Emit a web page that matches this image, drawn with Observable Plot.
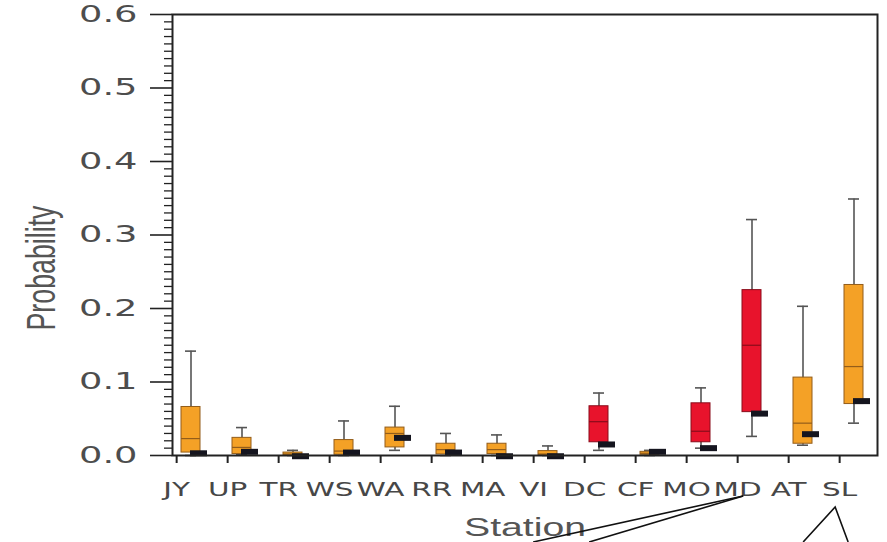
<!DOCTYPE html>
<html>
<head>
<meta charset="utf-8">
<script src="https://cdn.jsdelivr.net/npm/d3@7"></script>
<script src="https://cdn.jsdelivr.net/npm/@observablehq/plot@0.6"></script>
<style>
  html, body { margin: 0; padding: 0; background: #fff; }
  svg { display: block; }
</style>
</head>
<body>
<div id="chart"></div>
<script>
// ---- data ----
const stations   = ["JY","UP","TR","WS","WA","RR","MA","VI","DC","CF","MO","MD","AT","SL"];
const groups     = ["orange","orange","orange","orange","orange","orange","orange","orange","red","orange","red","red","orange","orange"];
const whiskerLow = [0.000, 0.001, 0.000, 0.000, 0.007, 0.000, 0.000, 0.000, 0.007, 0.000, 0.010, 0.026, 0.014, 0.044];
const q1         = [0.004, 0.002, 0.000, 0.001, 0.011, 0.0015, 0.002, 0.000, 0.018, 0.001, 0.018, 0.059, 0.016, 0.070];
const medians    = [0.023, 0.011, 0.002, 0.006, 0.030, 0.008, 0.008, 0.002, 0.046, 0.003, 0.033, 0.150, 0.044, 0.121];
const q3         = [0.066, 0.024, 0.004, 0.021, 0.038, 0.016, 0.016, 0.006, 0.067, 0.005, 0.071, 0.225, 0.106, 0.232];
const whiskerHigh= [0.142, 0.038, 0.007, 0.047, 0.067, 0.030, 0.028, 0.013, 0.085, 0.007, 0.092, 0.321, 0.203, 0.349];
const observed   = [0.003, 0.005, -0.001, 0.004, 0.024, 0.004, -0.001, -0.001, 0.015, 0.005, 0.010, 0.057, 0.029, 0.074];
const yMajorTicks = [0, 0.1, 0.2, 0.3, 0.4, 0.5, 0.6];
const yMinorTicks = d3.range(0, 61).filter(i => i % 10 !== 0).map(i => i / 100);

const fillColor = {orange: "#f4a126", red: "#e8132c"};
const edgeColor = {orange: "#935d1a", red: "#8a0c1b"};

const rows = stations.map((s, i) => ({
  station: s, group: groups[i], lo: whiskerLow[i], q1: q1[i], median: medians[i],
  q3: q3[i], hi: whiskerHigh[i], obs: observed[i]
}));

const plot = Plot.plot({
  width: 887,
  height: 542,
  marginLeft: 172,
  marginRight: 10,
  marginTop: 14,
  marginBottom: 87,
  style: {fontFamily: "DejaVu Sans", background: "#fff", overflow: "visible"},
  x: {type: "band", domain: stations, paddingInner: 0.628, paddingOuter: 0.114, align: 0.4, axis: null},
  y: {domain: [0, 0.6], axis: null},
  marks: [
    Plot.axisY(yMinorTicks, {tickSize: 8, tickFormat: () => "", stroke: "#222", strokeWidth: 1.3, label: null}),
    Plot.axisY(yMajorTicks, {tickSize: 22, tickPadding: 13, tickFormat: d3.format(".1f"), fontSize: 23, fill: "#4d4d4d", stroke: "#222", strokeWidth: 1.6, label: null}),
    Plot.axisX({tickSize: 8, tickPadding: 19, fontSize: 19, fill: "#474747", stroke: "#222", strokeWidth: 2, dx: -14.35, label: null}),
    Plot.ruleX(rows, {x: "station", y1: "lo", y2: "hi", stroke: "#555", strokeWidth: 1.6}),
    Plot.tickY(rows, {x: "station", y: "hi", stroke: "#555", strokeWidth: 1.6, insetLeft: 4, insetRight: 4}),
    Plot.tickY(rows, {x: "station", y: "lo", stroke: "#555", strokeWidth: 1.6, insetLeft: 4, insetRight: 4}),
    Plot.barY(rows, {x: "station", y1: "q1", y2: "q3", fill: d => fillColor[d.group], stroke: d => edgeColor[d.group], strokeWidth: 1}),
    Plot.tickY(rows, {x: "station", y: "median", stroke: d => edgeColor[d.group], strokeWidth: 1.2}),
    Plot.tickY(rows, {x: "station", y: "obs", stroke: "#15151f", strokeWidth: 6, dx: 8, insetLeft: 1, insetRight: 1}),
    Plot.frame({stroke: "#222", strokeWidth: 2}),
    Plot.text(["Probability"], {frameAnchor: "left", dx: -130, dy: 33, rotate: -90, fontSize: 40, fill: "#555",
      fontFamily: "Liberation Sans", textAnchor: "middle", lineAnchor: "middle"}),
    Plot.text(["Station"], {frameAnchor: "bottom", dx: 0, dy: 72, fontSize: 26, fill: "#555",
      fontFamily: "Liberation Sans", textAnchor: "middle", lineAnchor: "middle"})
  ]
});

document.getElementById("chart").append(plot);

// widen text horizontally, as in the (horizontally stretched) reference
function stretch(nodes, k) {
  nodes.forEach(t => {
    const w = t.getComputedTextLength();
    if (w > 0) { t.setAttribute("textLength", w * k); t.setAttribute("lengthAdjust", "spacingAndGlyphs"); }
  });
}
stretch(plot.querySelectorAll('g[aria-label="y-axis tick label"] text'), 1.6);
stretch(plot.querySelectorAll('g[aria-label="x-axis tick label"] text'), 1.55);
plot.querySelectorAll("text").forEach(t => {
  if (t.textContent === "Probability") { t.setAttribute("textLength", 125); t.setAttribute("lengthAdjust", "spacingAndGlyphs"); }
  if (t.textContent === "Station") { t.setAttribute("textLength", 122); t.setAttribute("lengthAdjust", "spacingAndGlyphs"); }
});

// callout lines below the axis, anchored to the MD and SL tick positions
const xs = plot.scale("x");
const tickPos = s => xs.apply(s) + xs.bandwidth / 2 - 14.35;
const callouts = [
  [["MD", -204, 542], ["MD", 6, 496]],
  [["MD", -148, 542], ["MD", 6, 496]],
  [["SL", -36, 542], ["SL", -4, 507], ["SL", 9, 542]]
];
const svg = d3.select(plot);
callouts.forEach(pts => {
  svg.append("polyline")
    .attr("points", pts.map(([s, off, y]) => `${tickPos(s) + off},${y}`).join(" "))
    .attr("fill", "none").attr("stroke", "#111").attr("stroke-width", 1.6);
});
</script>
</body>
</html>
